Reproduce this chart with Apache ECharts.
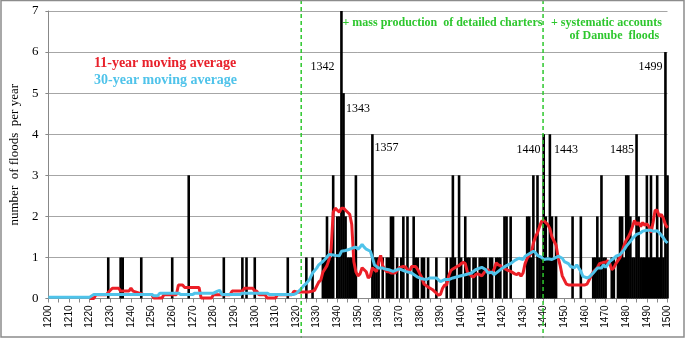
<!DOCTYPE html>
<html>
<head>
<meta charset="utf-8">
<script src="https://cdn.jsdelivr.net/npm/echarts@6/dist/echarts.min.js"></script>
<style>html,body{margin:0;padding:0;background:#fff}#c{width:685px;height:338px}</style>
</head>
<body>
<div id="c"></div>
<script>
// ---- data ----
const floodYears = [1229,1235,1236,1245,1260,1268,1285,1294,1296,1300,1316,
 1325,1328,1333,1334,1335,1336,1337,1338,1340,1341,1342,1343,1344,1345,1346,1347,1348,1349,
 1357,1358,1359,1360,1362,1364,1365,1366,1367,1369,1371,1372,1374,1377,1378,1379,1381,1382,1384,1388,
 1393,1395,1396,1397,1399,1400,1402,1403,1404,1406,1407,1409,1410,1411,1412,1414,1415,1417,1418,1419,
 1421,1422,1424,1432,1433,1434,1435,1437,1438,1439,1440,1441,1442,1443,1444,1445,1446,1454,1458,
 1464,1465,1466,1467,1468,1469,1470,1473,1474,1476,1477,1478,1479,1480,1481,1482,1483,1484,1485,
 1486,1487,1488,1489,1490,1491,1492,1493,1494,1495,1496,1497,1498,1499,1500];
const floodCounts = [1,1,1,1,1,3,1,1,1,1,1,
 1,1,1,1,2,1,1,3,2,2,7,5,2,1,1,1,1,3,
 4,1,1,1,1,1,1,2,2,1,1,2,2,2,1,1,1,1,1,1,
 1,1,3,1,3,1,2,1,1,1,1,1,1,1,1,1,1,1,1,1,
 2,2,2,2,2,1,3,3,1,1,4,2,1,4,2,1,2,2,2,
 1,1,2,1,3,1,1,1,1,1,2,2,1,3,3,2,1,1,4,
 2,1,1,1,3,1,3,1,1,3,1,2,1,6,3];

const ma11 = [[1220,0],[1222,0],[1223,0.09],[1228,0.09],[1230,0.2],[1231,0.25],[1234,0.25],[1235,0.18],[1239,0.18],[1240,0.25],[1241,0.18],[1246,0.1],[1250,0.1],[1251,0.01],[1255,0.01],[1256,0.09],[1262,0.09],[1263,0.33],[1265,0.33],[1266,0.27],[1273,0.27],[1274,0.01],[1279,0.01],[1280,0.09],[1288,0.09],[1289,0.18],[1294,0.18],[1295,0.25],[1299,0.25],[1300,0.18],[1301,0.18],[1302,0.09],[1305,0.09],[1306,0.01],[1310,0.01],[1311,0.09],[1318,0.09],[1319,0.18],[1321,0.15],[1323,0.16],[1326,0.16],[1328,0.18],[1329,0.2],[1331,0.4],[1332,0.45],[1333,0.64],[1334,0.72],[1335,0.8],[1336,0.95],[1337,1.2],[1338,2.1],[1339,2.2],[1340,2.15],[1341,2.1],[1342,2.2],[1343,2.2],[1344,2.15],[1345,2.1],[1346,2.05],[1347,1.8],[1348,0.9],[1349,0.65],[1350,0.55],[1351,0.6],[1352,0.75],[1353,0.7],[1354,0.65],[1355,0.5],[1356,0.55],[1357,0.75],[1358,0.7],[1359,0.65],[1360,0.9],[1361,1.05],[1362,0.8],[1363,0.7],[1364,0.65],[1365,0.65],[1366,0.62],[1368,0.62],[1370,0.75],[1372,0.78],[1373,0.77],[1374,0.7],[1375,0.66],[1376,0.78],[1378,0.78],[1379,0.7],[1380,0.6],[1381,0.5],[1382,0.35],[1384,0.28],[1386,0.22],[1388,0.13],[1389,0.08],[1390,0.1],[1391,0.25],[1392,0.33],[1393,0.33],[1394,0.55],[1395,0.68],[1396,0.72],[1398,0.78],[1399,0.8],[1400,0.85],[1401,0.88],[1402,0.85],[1403,0.65],[1404,0.6],[1405,0.55],[1406,0.52],[1407,0.58],[1408,0.6],[1409,0.58],[1410,0.55],[1411,0.62],[1412,0.68],[1413,0.7],[1414,0.64],[1415,0.62],[1416,0.72],[1417,0.87],[1418,0.82],[1419,0.8],[1420,0.75],[1422,0.7],[1424,0.66],[1426,0.6],[1427,0.58],[1428,0.62],[1429,0.54],[1430,0.62],[1431,0.85],[1432,0.98],[1433,1.05],[1434,1.1],[1435,1.35],[1436,1.5],[1437,1.6],[1438,1.75],[1439,1.88],[1440,1.9],[1441,1.85],[1442,1.8],[1443,1.7],[1444,1.5],[1445,1.4],[1446,1.3],[1447,1.0],[1448,0.8],[1449,0.55],[1450,0.45],[1451,0.35],[1452,0.33],[1460,0.33],[1461,0.35],[1462,0.45],[1463,0.55],[1464,0.65],[1466,0.75],[1467,0.85],[1469,0.88],[1470,0.88],[1471,0.92],[1472,0.85],[1473,0.7],[1474,0.75],[1475,0.85],[1477,1.0],[1478,1.15],[1479,1.3],[1480,1.42],[1481,1.5],[1482,1.6],[1483,1.75],[1484,1.9],[1485,1.8],[1486,1.85],[1487,1.75],[1488,1.85],[1489,1.78],[1490,1.82],[1491,1.75],[1492,1.6],[1493,1.85],[1494,2.15],[1495,2.15],[1496,2.0],[1497,2.05],[1498,1.95],[1499,1.8],[1500,1.72]];

const ma30 = [[1200,0.03],[1220,0.03],[1222,0.1],[1250,0.1],[1251,0.07],[1253,0.07],[1254,0.13],[1263,0.13],[1264,0.1],[1270,0.1],[1271,0.13],[1280,0.13],[1282,0.18],[1283,0.2],[1284,0.1],[1293,0.1],[1294,0.13],[1306,0.13],[1307,0.1],[1319,0.1],[1320,0.12],[1322,0.21],[1323.5,0.3],[1325,0.37],[1326.5,0.46],[1328,0.62],[1330,0.74],[1331,0.82],[1333,0.9],[1334.5,0.98],[1336,1.07],[1338,1.06],[1339,1.05],[1341,1.04],[1342,1.15],[1344,1.17],[1346,1.2],[1348,1.24],[1349,1.25],[1350,1.2],[1351,1.25],[1352,1.32],[1353,1.25],[1354,1.2],[1356,1.15],[1357,1.0],[1358,0.82],[1360,0.74],[1362,0.74],[1363,0.72],[1365,0.7],[1367,0.66],[1370,0.72],[1373,0.66],[1376,0.62],[1379,0.52],[1381,0.48],[1383,0.46],[1385,0.5],[1388,0.5],[1390,0.41],[1392,0.46],[1394,0.46],[1396,0.5],[1399,0.54],[1402,0.58],[1405,0.62],[1407,0.7],[1408,0.72],[1410,0.76],[1412,0.7],[1413,0.62],[1415,0.64],[1416,0.58],[1418,0.66],[1420,0.74],[1422,0.8],[1424,0.85],[1426,0.93],[1428,0.98],[1430,0.95],[1431,1.03],[1433,1.09],[1435,1.15],[1436,1.12],[1437,1.05],[1439,1.0],[1440,0.95],[1442,0.97],[1444,0.95],[1446,1.0],[1447,1.03],[1449,0.98],[1450,0.9],[1452,0.85],[1453,0.78],[1455,0.75],[1456,0.82],[1458,0.66],[1459,0.54],[1461,0.5],[1462,0.52],[1464,0.62],[1466,0.74],[1468,0.74],[1469,0.82],[1470,0.76],[1472,0.9],[1474,0.98],[1475,1.03],[1477,1.07],[1479,1.19],[1480,1.27],[1482,1.39],[1483,1.46],[1485,1.56],[1487,1.6],[1488,1.64],[1490,1.66],[1492,1.66],[1493,1.64],[1495,1.65],[1496,1.6],[1498,1.48],[1499,1.4],[1500,1.35]];

const periodLines = [1322.5, 1439.7];
const yTicks = [0,1,2,3,4,5,6,7];

const peakLabels = [
  {t:'1342', x:310.5, y:67}, {t:'1343', x:346, y:109}, {t:'1357', x:374.5, y:148},
  {t:'1440', x:516.5, y:149.5}, {t:'1443', x:554, y:149.5}, {t:'1485', x:610, y:149.5},
  {t:'1499', x:638.5, y:67}
];

const chart = echarts.init(document.getElementById('c'), null, {renderer:'canvas'});
const SERIF = '"Liberation Serif","Times New Roman",serif';
const GREEN = '#2ec72e';

chart.setOption({
  animation:false,
  grid:{left:42, right:17.5, top:11, bottom:39.5, containLabel:false},
  xAxis:{
    type:'value', min:1200, max:1500, interval:10,
    axisLine:{show:true, lineStyle:{color:'#888', width:1}},
    axisTick:{show:true, length:4, lineStyle:{color:'#888'}},
    minorTick:{show:true, splitNumber:2, length:4, lineStyle:{color:'#888'}},
    axisLabel:{rotate:90, fontSize:10, fontFamily:'"Liberation Sans",Arial,sans-serif', color:'#000', margin:7,
      formatter:v=>String(v)},
    splitLine:{show:false}
  },
  yAxis:{
    type:'value', min:0, max:7, interval:1,
    name:'number  of floods  per year', nameLocation:'middle', nameRotate:90, nameGap:26,
    nameTextStyle:{fontFamily:SERIF, fontSize:13, color:'#000'},
    axisLine:{show:true, lineStyle:{color:'#888'}},
    axisTick:{show:true, length:3, lineStyle:{color:'#888'}},
    axisLabel:{fontFamily:SERIF, fontSize:13, color:'#000', margin:10,
      formatter:v=>yTicks.indexOf(v)>=0?String(v):''},
    splitLine:{show:true, lineStyle:{color:'#a6a6a6', width:1}}
  },
  series:[
    {type:'bar', data:floodYears.map((y,i)=>[y,floodCounts[i]]), barWidth:2.6,
     itemStyle:{color:'#000'}, z:1, silent:true},
    {type:'line', data:ma11, showSymbol:false, lineStyle:{color:'#ec1f27', width:3}, z:3, silent:true},
    {type:'line', data:ma30, showSymbol:false, lineStyle:{color:'#4fc3ea', width:3}, z:4, silent:true}
  ]
});

const g = [];
g.push({type:'rect', shape:{x:1, y:0.5, width:683, height:336.5}, style:{fill:null, stroke:'#8c8c8c', lineWidth:1.5}, z:100});
periodLines.forEach(yr=>{
  const px = chart.convertToPixel({xAxisIndex:0}, yr);
  g.push({type:'line', shape:{x1:px, y1:0, x2:px, y2:338}, style:{stroke:GREEN, lineWidth:1.5, lineDash:[4,3]}, z:50});
});
peakLabels.forEach(p=>{
  g.push({type:'text', x:p.x, y:p.y, style:{text:p.t, font:'12px '+SERIF, fill:'#000', textAlign:'left', textVerticalAlign:'middle'}, z:60});
});
g.push({type:'text', x:94, y:63, style:{text:'11-year moving average', font:'bold 14px '+SERIF, fill:'#e8212b', textAlign:'left', textVerticalAlign:'middle'}, z:60});
g.push({type:'text', x:94, y:80, style:{text:'30-year moving average', font:'bold 14px '+SERIF, fill:'#4fc3ea', textAlign:'left', textVerticalAlign:'middle'}, z:60});
g.push({type:'text', x:342.5, y:22.5, style:{text:'+ mass production  of detailed charters', font:'bold 12px '+SERIF, fill:GREEN, textAlign:'left', textVerticalAlign:'middle'}, z:60});
g.push({type:'text', x:551, y:22.5, style:{text:'+ systematic accounts', font:'bold 12px '+SERIF, fill:GREEN, textAlign:'left', textVerticalAlign:'middle'}, z:60});
g.push({type:'text', x:569.5, y:35.5, style:{text:'of Danube  floods', font:'bold 12px '+SERIF, fill:GREEN, textAlign:'left', textVerticalAlign:'middle'}, z:60});
chart.setOption({graphic:g});
</script>
</body>
</html>
